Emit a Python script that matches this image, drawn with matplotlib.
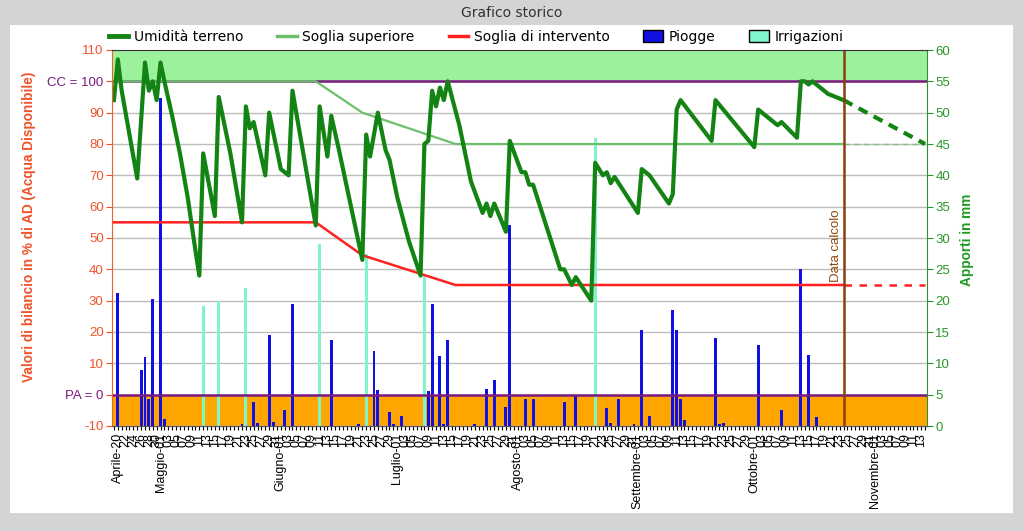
import datetime as dt
import matplotlib
matplotlib.use("Agg")
import matplotlib.pyplot as plt
import matplotlib.transforms as mtransforms
from matplotlib.patches import Rectangle, Patch
from matplotlib.lines import Line2D

plt.rcParams['font.family'] = ['Liberation Sans', 'DejaVu Sans']

# giorni contati dal 20 aprile (0 = Aprile-20)
start = dt.date(2013, 4, 20)
mesi = {4: "Aprile", 5: "Maggio", 6: "Giugno", 7: "Luglio", 8: "Agosto",
        9: "Settembre", 10: "Ottobre", 11: "Novembre"}
first_day, last_day = -1, 208
data_calcolo = 187

# umidita' del terreno (% AD)
um_days = [-1, 0, 1, 5, 7, 8, 9, 10, 11, 12, 14, 16, 18, 20, 21, 22, 25, 26, 29, 32,
           33, 34, 35, 38, 39, 42, 44, 45, 51, 52, 54, 55, 57, 63, 64, 65, 67, 69, 70,
           72, 75, 78, 79, 80, 81, 82, 83, 84, 85, 88, 91, 94, 95, 96, 97, 100, 101,
           104, 105, 106, 107, 114, 115, 117, 118, 122, 123, 125, 126, 127, 128, 134,
           135, 137, 142, 143, 144, 145, 153, 154, 164, 165, 170, 171, 175, 176, 177,
           178, 179, 183, 187]
um_vals = [94, 107, 97, 69, 106, 97, 100, 94, 106, 100, 89, 77, 63, 46, 38, 77, 57, 95, 77, 55,
           92, 85, 87, 70, 90, 72, 70, 97, 54, 92, 76, 89, 78, 43, 83, 76, 90, 78, 75,
           63, 49, 38, 80, 81, 97, 92, 98, 94, 100, 86, 68, 58, 61, 57, 61, 52, 81,
           71, 71, 67, 67, 40, 40, 35, 37.5, 30, 74, 70, 71, 67.5, 69.5, 58,
           72, 70, 61, 64, 91, 94, 81, 94, 79, 91, 86, 87, 82, 100, 100,
           99, 100, 96, 94]
um_prev_days = [187, 208]
um_prev_vals = [94, 80]

# soglie
sup_days = [-1, 51, 63, 87, 187]
sup_vals = [100, 100, 90, 80, 80]
int_days = [-1, 51, 63, 87, 187]
int_vals = [55, 55, 44.5, 35, 35]
prev_days = [187, 208]
sup_prev = [80, 80]
int_prev = [35, 35]

# apporti (mm)
pioggia_days = [0, 6, 7, 8, 9, 11, 12, 32, 35, 36, 39, 40, 43, 45, 55, 62, 66, 67, 70, 71,
                73, 79, 80, 81, 83, 84, 85, 92, 95, 97, 100, 101, 105, 107, 115, 118, 126,
                127, 129, 133, 135, 137, 143, 144, 145, 146, 154, 155, 156, 165, 171, 176,
                178, 180]
pioggia_mm = [21.3, 9, 11, 4.3, 20.3, 52.4, 1.1, 0.3, 3.9, 0.4, 14.5, 0.7, 2.5, 19.5, 13.7, 0.3,
              12, 5.7, 2.3, 0.3, 1.6, 0.7, 5.6, 19.4, 11.2, 0.3, 13.7, 0.3, 5.9, 7.3, 3, 32,
              4.3, 4.3, 3.9, 4.8, 2.9, 0.4, 4.3, 0.3, 15.3, 1.6, 18.5, 15.3, 4.3, 0.9, 14.1,
              0.3, 0.4, 12.9, 2.5, 25, 11.4, 1.4]
irr_days = [22, 26, 33, 52, 64, 79, 123]
irr_mm = [19.2, 20, 22, 29, 27.5, 24, 46]

# etichette asse x: un giorno su due
tick_days = list(range(first_day, last_day + 1))
tick_labels = []
for d in tick_days:
    g = start + dt.timedelta(days=d)
    if d == 0:
        tick_labels.append("Aprile-20")
    elif g.month == 4:
        tick_labels.append("%02d" % g.day if g.day % 2 == 0 and d > 0 else "")
    elif g.day == 1:
        tick_labels.append("%s-01" % mesi[g.month])
    else:
        tick_labels.append("%02d" % g.day if g.day % 2 == 1 else "")

C_ORANGE_TXT = "#f0532a"
C_GREEN_TXT = "#2a962a"
C_PURPLE = "#7a1a80"

fig = plt.figure(figsize=(10.24, 5.31), dpi=100, facecolor="#d4d4d4")
fig.add_artist(Rectangle((10 / 1024, 1 - 513 / 531), 1003 / 1024, 488 / 531,
                         transform=fig.transFigure, facecolor="white", edgecolor="none", zorder=-1))

ax = fig.add_axes([112 / 1024, 1 - 426 / 531, 815 / 1024, 376 / 531])
ax2 = ax.twinx()
ax.set_zorder(2)
ax.patch.set_visible(False)
ax2.set_zorder(1)
ax2.patch.set_facecolor("white")

ax.set_xlim(first_day - 0.5, last_day + 0.5)
ax.set_ylim(-10, 110)
ax2.set_ylim(0, 60)

# fasce CC / PA
band = mtransforms.blended_transform_factory(ax2.transAxes, ax.transData)
ax2.add_patch(Rectangle((0, 100), 1, 10, transform=band, facecolor="#9cf29c", edgecolor="none", zorder=0.1))
ax2.add_patch(Rectangle((0, -10), 1, 10, transform=band, facecolor="#ffa500", edgecolor="none", zorder=0.1))

ax2.set_yticks(range(0, 61, 5))
ax2.yaxis.grid(True, color="#bdbdbd", lw=1)
ax2.set_axisbelow(True)

ax2.bar(pioggia_days, pioggia_mm, width=0.75, color="#1010e0", zorder=2)
ax2.bar(irr_days, irr_mm, width=0.75, color="#80f5cc", zorder=2)

ax.axhline(100, color=C_PURPLE, lw=1.8)
ax.axhline(0, color=C_PURPLE, lw=1.8)

ax.plot(sup_days, sup_vals, color="#6cc06c", lw=1.6)
ax.plot(prev_days, sup_prev, color="#80c080", lw=1.0, ls=(0, (4, 3)))
ax.plot(int_days, int_vals, color="#ff2020", lw=1.8)
ax.plot(prev_days, int_prev, color="#ff2020", lw=1.8, ls=(0, (3, 3)))
ax.plot(um_days, um_vals, color="#138413", lw=3.0)
ax.plot(um_prev_days, um_prev_vals, color="#138413", lw=3.0, ls=(0, (2.4, 1.7)))

ax.axvline(data_calcolo, color="#8a3e10", lw=1.8)
ax.text(185.1, 36, "Data calcolo", rotation=90, ha="center", va="bottom",
        fontsize=9.5, color="#8a4a10")

# assi
ax.set_yticks(range(-10, 111, 10))
ylabels = [str(v) for v in range(-10, 111, 10)]
ylabels[1] = "PA = 0"
ylabels[11] = "CC = 100"
ax.set_yticklabels(ylabels)
ax.tick_params(axis="y", colors=C_ORANGE_TXT, labelsize=9.5, length=4, pad=2)
for t in ax.get_yticklabels():
    if t.get_text() in ("PA = 0", "CC = 100"):
        t.set_color(C_PURPLE)
ax2.tick_params(axis="y", colors=C_GREEN_TXT, labelsize=9.5, length=4, pad=2)

ax.set_xticks(tick_days)
ax.set_xticklabels(tick_labels, rotation=90, fontsize=9)
ax.tick_params(axis="x", length=3, width=0.8, pad=2)

for s in ("left", "bottom", "top"):
    ax2.spines[s].set_visible(False)
ax.spines["right"].set_visible(False)
ax.spines["left"].set_color("#f06030")
ax2.spines["right"].set_color("#2a962a")
ax.spines["top"].set_color("#333333")
ax.spines["bottom"].set_color("#555555")

fig.text(29 / 1024, 1 - 227 / 531, "Valori di bilancio in % di AD (Acqua Disponibile)",
         rotation=90, ha="center", va="center", fontsize=9.8, fontweight="bold", color=C_ORANGE_TXT)
fig.text(967 / 1024, 1 - 240 / 531, "Apporti in mm", rotation=90, ha="center", va="center",
         fontsize=9.8, fontweight="bold", color="#1f9a1f")
fig.text(0.5, 1 - 13 / 531, "Grafico storico", ha="center", va="center", fontsize=10,
         color="#333333", family="DejaVu Sans")

handles = [Line2D([], [], color="#138413", lw=3.5),
           Line2D([], [], color="#6cc06c", lw=2.5),
           Line2D([], [], color="#ff2020", lw=2.5),
           Patch(facecolor="#1010e0", edgecolor="black"),
           Patch(facecolor="#80f5cc", edgecolor="black")]
labels = ["Umidità terreno", "Soglia superiore", "Soglia di intervento", "Piogge", "Irrigazioni"]
fig.legend(handles, labels, loc="center", bbox_to_anchor=(476 / 1024, 1 - 37 / 531), ncol=5,
           frameon=False, prop={"family": "DejaVu Sans", "size": 10}, handlelength=1.4,
           handleheight=0.9, columnspacing=2.45, handletextpad=0.4)

fig.savefig("out.png", dpi=100, facecolor=fig.get_facecolor())
